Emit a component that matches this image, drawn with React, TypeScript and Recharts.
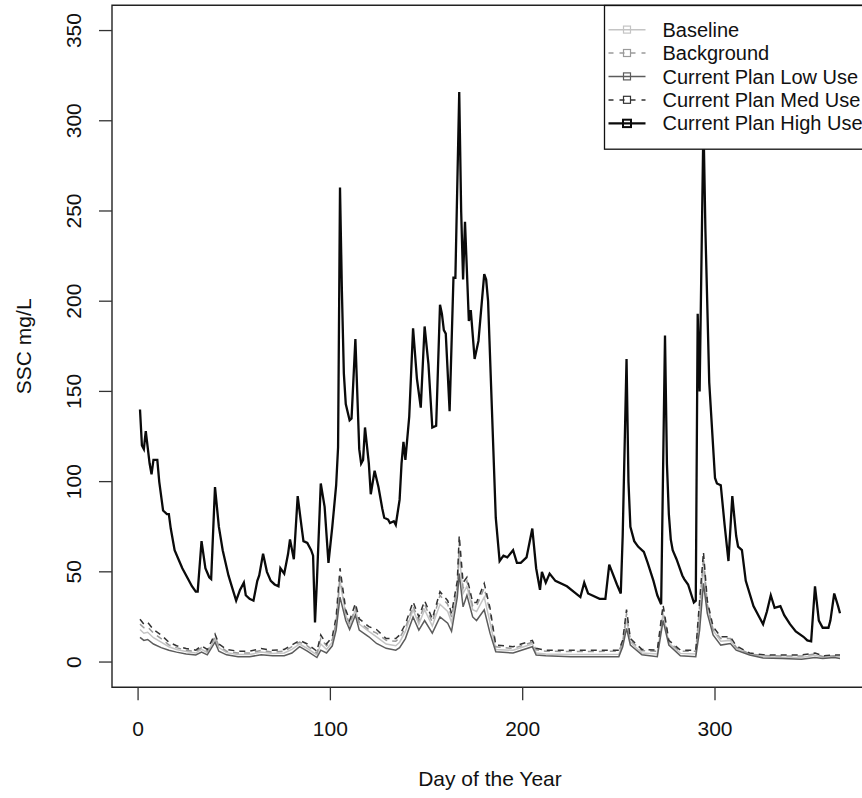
import React from 'react';
import { LineChart, Line, XAxis, YAxis, ReferenceArea, Label } from 'recharts';

const seriesNames = ['Baseline', 'Background', 'Current Plan Low Use', 'Current Plan Med Use', 'Current Plan High Use'];
const xTicks = [0, 100, 200, 300];
const yTicks = [0, 50, 100, 150, 200, 250, 300, 350];

const highDays = [1,2,3,4,6,7,8,10,11,13,15,16,17,19,21,23,26,28,30,31,33,35,37,38,40,42,44,47,49,51,53,55,56,58,60,62,63,65,67,69,71,73,74,76,78,79,81,83,85,86,88,90,91,92,93,95,97,99,101,103,104,105,106,107,108,110,111,113,115,116,117,118,120,121,123,125,127,128,130,131,133,134,136,137,138,139,141,143,145,147,149,151,153,155,157,158,159,160,162,164,165,167,168,169,170,172,173,175,177,180,181,182,184,186,188,190,192,195,197,199,202,205,207,209,210,212,214,217,223,230,232,234,240,243,245,249,251,252,254,255,256,258,260,263,265,268,270,272,274,275,276,277,278,280,283,284,286,289,290,291,292,294,295,297,300,301,303,305,307,309,311,312,314,316,320,323,325,327,329,331,334,336,339,342,346,348,350,352,354,356,359,360,362,364,365];
const highVals = [140,120,118,128,110,104,112,112,100,84,82,82,74,62,57,52,46,42,39,39,67,52,47,46,97,75,62,48,41,34,40,44,37,35,34,45,48,60,50,45,43,42,52,49,60,68,57,92,75,67,66,62,59,22,45,99,86,55,75,98,119,263,205,160,143,134,135,179,118,110,112,130,110,93,106,97,85,80,79,77,78,76,90,110,122,112,136,185,157,141,186,165,130,131,198,193,184,182,139,213,213,316,250,212,244,189,195,168,178,215,212,200,140,80,56,59,58,62,55,55,58,74,52,40,50,44,49,45,42,36,44,38,35,35,54,43,38,70,168,100,75,67,64,61,55,45,37,32,181,110,82,68,62,57,48,46,43,33,34,193,150,300,240,155,102,99,98,76,56,92,70,64,62,45,31,25,21,28,37,30,31,26,21,17,14,12,11.5,42,23,19,19,23,38,31,27];

const lowerDays = [1,3,5,8,12,16,20,25,30,33,36,40,42,46,52,58,64,70,76,80,84,88,93,95,98,101,103,105,108,110,113,115,120,124,129,134,136,139,143,146,149,153,157,161,163,166,167,169,171,174,176,180,183,186,195,205,207,212,225,240,250,252,254,256,262,270,273,276,282,290,292,294,296,299,303,308,311,318,325,335,345,352,356,362,365];
const baselineVals = [18,16,16.5,13.5,11,8.5,7,5.8,5,7,5.2,13,8,5.2,4.2,4.2,5.5,4.7,5,7,10,7.5,4,10,7,11,21,45,26,20,29,21,17,14,10,9,11,17,29,21,29,20,32,28,22,40,60,38,42,29,28,36,22,7,6.5,10,5,4.5,4.2,4.2,4.3,10,24,11,5,4.5,27,10.5,4.8,4.5,25,53,31,17.5,11.5,12,7.5,4.3,2.9,2.7,2.5,3.7,2.6,3.1,2.9];
const backgroundVals = [21,19,19.5,16,13,9.5,8,6.5,5.8,8,6,14,9,6,5,5,6.5,5.5,6,8.5,11,9,5,13,9,12.5,22,48,27,21,30,22,18,16,12,11.5,13.5,19,31,23,32,22,37,32,25,42,66,41,45,31,31,41,28,8.5,7.5,11,6.8,6,5.8,5.9,6,11,27,12,6.3,6,29,11,6,6,31,58,32,18,13,13,8.2,4.5,3.6,3.4,3.3,4.5,3.1,3.5,3.4];
const lowUseVals = [13.7,12,12.5,10,8,6.5,5.5,4.5,3.9,5.5,4,11,6,4,3,3,4,3.5,3.5,5,8.5,6,2.5,6.6,5,9,17.7,36,23,18,26,17.7,14,10.3,7.6,6.6,8,13,25,17.7,23,16,25,21.5,17,36,49,30.6,37,25,23,29,16,5.7,5,8.5,3.9,3.5,3,3,3,8.5,18.7,9.4,4,3,23,9.4,3.5,3,17.7,43.6,27,15,9.4,10.3,6.6,3.9,2.2,2,1.5,2.5,2,2.5,2];
const medUseVals = [23.7,21,22,18,15,11,9,7.5,6.6,9,7,15.5,10,7,6,6,7.5,6.5,7,9.5,12,10,6,15,10,14,25,52,29,23,32.5,24,19.6,18,13,13,15,21,33.4,25,34,24,39,34,27,45,70,44,47,33,33,43.6,30,9.4,8.5,12,7.6,6.6,6.5,6.6,6.6,12,29,13,7,6.6,31.6,12,6.6,6.6,34,61,34,19.6,14,14,9,5,4,3.9,3.9,5,3.5,3.9,3.9];

const toRows = (days: number[], vals: number[]) => days.map((d, i) => ({ day: d, value: vals[i] }));

const seriesData = [
  toRows(lowerDays, baselineVals),
  toRows(lowerDays, backgroundVals),
  toRows(lowerDays, lowUseVals),
  toRows(lowerDays, medUseVals),
  toRows(highDays, highVals),
];

const STYLES = [
  { color: '#c4c4c4', dash: undefined as string | undefined, width: 1.5 },
  { color: '#9a9a9a', dash: '6 5', width: 1.5 },
  { color: '#5c5c5c', dash: undefined as string | undefined, width: 1.5 },
  { color: '#333333', dash: '6 5', width: 1.5 },
  { color: '#0a0a0a', dash: undefined as string | undefined, width: 2.3 },
];

const FONT = '"Liberation Sans", Arial, Helvetica, sans-serif';
const INK = '#111';

const XTick = (props: any) => {
  const { x, y, payload } = props;
  return (
    <text x={x} y={y} dy="0.71em" textAnchor="middle" fontSize={21} fill={INK} fontFamily={FONT}>
      {payload.value}
    </text>
  );
};

const YTick = (props: any) => {
  const { x, y, payload } = props;
  return (
    <text x={x} y={y} textAnchor="middle" fontSize={21} fill={INK} fontFamily={FONT} transform={`rotate(-90, ${x}, ${y})`}>
      {payload.value}
    </text>
  );
};

const XTitle = (props: any) => {
  const vb = props.viewBox || { x: 112, y: 687.3, width: 756, height: 100 };
  const cx = vb.x + vb.width / 2;
  return (
    <text x={cx} y={vb.y + 98.7} textAnchor="middle" fontSize={21} fill={INK} fontFamily={FONT}>
      Day of the Year
    </text>
  );
};

const YTitle = (props: any) => {
  const vb = props.viewBox || { x: 12, y: 5.3, width: 100, height: 682 };
  const tx = vb.x + 19.5;
  const ty = vb.y + vb.height / 2;
  return (
    <text x={tx} y={ty} textAnchor="middle" fontSize={21} fill={INK} fontFamily={FONT} transform={`rotate(-90, ${tx}, ${ty})`}>
      SSC mg/L
    </text>
  );
};

const LegendBox = () => {
  const rowY = (i: number) => 24.7 + i * 23.4;
  return (
    <svg width={270} height={145} style={{ position: 'absolute', left: 603.5, top: 4.8, overflow: 'visible' }}>
      <rect x={0.5} y={0.5} width={268} height={143.7} fill="#fff" stroke="#111" strokeWidth={1.3} />
      {seriesNames.map((name, i) => {
        const s = STYLES[i];
        const y = rowY(i);
        const big = i === 4;
        return (
          <g key={name}>
            <line x1={4.5} x2={41.5} y1={y} y2={y} stroke={s.color} strokeWidth={s.width} strokeDasharray={s.dash ? '5 6' : undefined} />
            <rect x={big ? 19 : 19.5} y={y - 3.6} width={big ? 8 : 7} height={big ? 7.4 : 7} fill="none" stroke={s.color} strokeWidth={big ? 2 : 1.2} />
            <text x={58.5} y={y} dominantBaseline="central" fontSize={20} fill={INK} fontFamily={FONT}>
              {name}
            </text>
          </g>
        );
      })}
    </svg>
  );
};

export default function App() {
  return (
    <div style={{ position: 'absolute', left: 0, top: 0, width: 862, height: 798, overflow: 'hidden', background: '#fff' }}>
      <LineChart width={880} height={798} margin={{ top: 5.3, right: 12, bottom: 10.7, left: 12 }}>
        <XAxis
          type="number"
          dataKey="day"
          domain={[-13.56, 379.56]}
          allowDataOverflow
          ticks={xTicks}
          interval={0}
          axisLine={false}
          tickLine={{ stroke: '#333', strokeWidth: 1.3 }}
          tickSize={13}
          tickMargin={20.4}
          height={100}
          tick={<XTick />}
        >
          <Label content={<XTitle />} />
        </XAxis>
        <YAxis
          type="number"
          dataKey="value"
          domain={[-14, 364]}
          allowDataOverflow
          ticks={yTicks}
          interval={0}
          axisLine={false}
          tickLine={{ stroke: '#333', strokeWidth: 1.3 }}
          tickSize={13}
          tickMargin={17.5}
          width={100}
          tick={<YTick />}
        >
          <Label content={<YTitle />} />
        </YAxis>
        <ReferenceArea x1={-13.56} x2={379.56} y1={-14} y2={364} fill="none" stroke="#222" strokeWidth={1.4} ifOverflow="visible" />
        {seriesData.map((rows, i) => (
          <Line
            key={seriesNames[i]}
            data={rows}
            dataKey="value"
            name={seriesNames[i]}
            type="linear"
            stroke={STYLES[i].color}
            strokeWidth={STYLES[i].width}
            strokeDasharray={STYLES[i].dash}
            dot={false}
            activeDot={false}
            isAnimationActive={false}
          />
        ))}
      </LineChart>
      <LegendBox />
    </div>
  );
}
